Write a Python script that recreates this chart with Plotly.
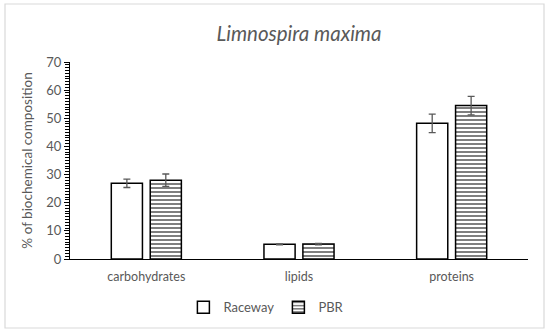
import plotly.graph_objects as go

categories = ["carbohydrates", "lipids", "proteins"]
raceway = [26.9, 5.2, 48.2]
raceway_err = [1.5, 0.15, 3.3]
pbr = [28.0, 5.3, 54.5]
pbr_err = [2.2, 0.25, 3.3]
series_names = ["Raceway", "PBR"]

FONT = "Lato, Liberation Sans, sans-serif"
GRAY = "#595959"

fig = go.Figure()
fig.add_trace(go.Bar(
    x=categories, y=raceway, name=series_names[0],
    marker=dict(color="white", line=dict(color="black", width=1.5)),
    error_y=dict(type="data", array=raceway_err, color=GRAY, thickness=1.3, width=3.5),
))
fig.add_trace(go.Bar(
    x=categories, y=pbr, name=series_names[1],
    marker=dict(color="white", line=dict(color="black", width=1.5),
                pattern=dict(shape="-", fgcolor="black", bgcolor="white", size=4, solidity=0.5)),
    error_y=dict(type="data", array=pbr_err, color=GRAY, thickness=1.3, width=3.5),
))

fig.update_layout(
    width=550, height=333,
    margin=dict(l=70, r=22, t=62, b=74, autoexpand=False),
    paper_bgcolor="white", plot_bgcolor="white",
    barmode="group", bargap=0.49, bargroupgap=0.2,
    font=dict(family=FONT, color=GRAY, size=12),
    title=dict(text="<i>Limnospira maxima</i>", x=0.5, xref="paper", xanchor="center",
               y=1 - 34 / 333, yanchor="middle", font=dict(size=20.5, color=GRAY, family=FONT)),
    showlegend=True,
    legend=dict(orientation="h", x=0.455, xanchor="center", y=-0.245, yanchor="middle",
                font=dict(size=13, color=GRAY), itemwidth=30, traceorder="normal",
                entrywidth=50),
    xaxis=dict(showline=True, linecolor="black", linewidth=1.3, ticks="",
               ticklabelstandoff=6,
               tickfont=dict(size=12.5, color=GRAY), showgrid=False),
    yaxis=dict(range=[0, 70], dtick=10, showline=True, linecolor="black", linewidth=1.3,
               ticks="outside", ticklen=5, tickcolor="black", tickwidth=1.2,
               minor=dict(dtick=1, ticks="outside", ticklen=4, tickcolor="black", tickwidth=1),
               showgrid=False, zeroline=False,
               tickfont=dict(size=13, color=GRAY),
               title=dict(text="% of biochemical composition", font=dict(size=13.5, color=GRAY), standoff=10)),
    shapes=[dict(type="rect", xref="paper", yref="paper",
                 x0=(5 - 70) / 458, x1=(544 - 70) / 458,
                 y0=(259 - 328) / 197, y1=(259 - 4) / 197,
                 line=dict(color="#d9d9d9", width=1.2), fillcolor="rgba(0,0,0,0)", layer="below")],
)

fig.write_html("out.html", config={"displayModeBar": False},
               post_script="document.body.style.margin='0';")
